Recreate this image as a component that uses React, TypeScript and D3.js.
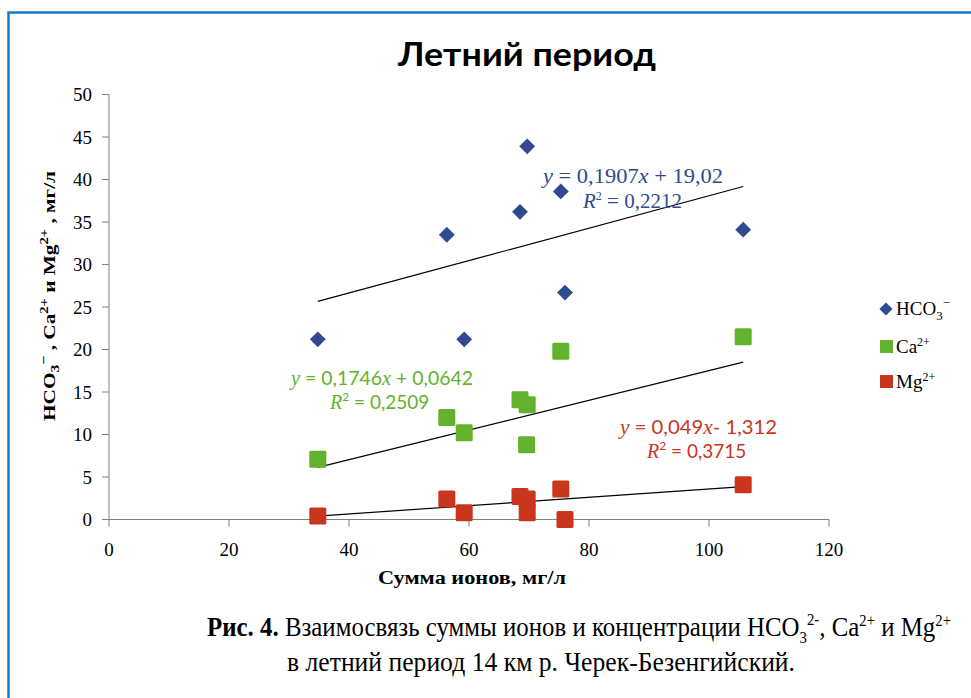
import React from "react";
import * as d3 from "d3";

const sumIonsX = [34.8, 56.3, 59.2, 68.5, 69.7, 75.3, 76.0, 105.7];
const hco3Values = [21.2, 33.5, 21.2, 36.2, 43.9, 38.6, 26.7, 34.1];

const caX = [34.8, 56.3, 59.2, 68.5, 69.7, 69.6, 75.3, 105.7];
const caValues = [7.1, 12.0, 10.2, 14.1, 13.5, 8.8, 19.8, 21.5];

const mgX = [34.8, 56.3, 59.2, 68.5, 69.7, 69.7, 75.3, 76.0, 105.7];
const mgValues = [0.4, 2.4, 0.8, 2.7, 2.4, 0.8, 3.6, 0.0, 4.1];

const xTicks = [0, 20, 40, 60, 80, 100, 120];
const yTicks = [0, 5, 10, 15, 20, 25, 30, 35, 40, 45, 50];

// trend coefficients [slope, intercept] as printed
const hco3Trend = [0.1907, 19.02];
const caTrend = [0.1746, 0.0642];
const mgTrend = [0.049, -1.312];

const BLUE = "#2f4a8f";
const GREEN = "#62b22d";
const RED = "#c8361d";
const SERIF = "'Liberation Serif', 'Times New Roman', serif";
const SANS = "Lato, 'Open Sans', sans-serif";

export default function App() {
  const x = d3.scaleLinear().domain([0, 120]).range([109, 829]);
  const y = d3.scaleLinear().domain([0, 50]).range([519.5, 94.5]);

  const trendPath = (xs: number[], coef: number[]) => {
    const x0 = d3.min(xs) as number;
    const x1 = d3.max(xs) as number;
    const line = d3
      .line<number>()
      .x((d) => x(d))
      .y((d) => y(coef[0] * d + coef[1]));
    return line([x0, x1]) || "";
  };

  const diamond = d3.symbol().type(d3.symbolDiamond2).size(160)() || "";

  const sq = 17;

  return (
    <div style={{ position: "fixed", left: 0, top: 0 }}>
      <svg width={971} height={698} style={{ display: "block", background: "#fff" }}>
        {/* frame */}
        <path d="M8.5,698 L8.5,12.5 L971,12.5" fill="none" stroke="#1a7cc1" strokeWidth={2.5} />

        {/* title */}
        <text x={527} y={66} textAnchor="middle" fontFamily={SANS} fontWeight="bold" fontSize={33} textLength={258} lengthAdjust="spacingAndGlyphs" fill="#000">
          Летний период
        </text>

        {/* y axis */}
        <line x1={x(0)} x2={x(0)} y1={y(50)} y2={y(0)} stroke="#7f7f7f" strokeWidth={1} />
        {yTicks.map((t) => (
          <g key={"yt" + t}>
            <line x1={x(0) - 7} x2={x(0)} y1={y(t)} y2={y(t)} stroke="#7f7f7f" />
            <text x={x(0) - 17} y={y(t) + 6.5} textAnchor="end" fontFamily={SERIF} fontSize={19} fill="#000">
              {t}
            </text>
          </g>
        ))}
        {/* x axis */}
        <line x1={x(0) - 7} x2={x(120)} y1={y(0)} y2={y(0)} stroke="#7f7f7f" strokeWidth={1} />
        {xTicks.map((t) => (
          <g key={"xt" + t}>
            <line x1={x(t)} x2={x(t)} y1={y(0)} y2={y(0) + 7} stroke="#7f7f7f" />
            <text x={x(t)} y={y(0) + 36} textAnchor="middle" fontFamily={SERIF} fontSize={19} fill="#000">
              {t}
            </text>
          </g>
        ))}

        {/* axis titles */}
        <text x={378} y={584} fontFamily={SERIF} fontWeight="bold" fontSize={18} textLength={188} lengthAdjust="spacingAndGlyphs" fill="#000">
          Сумма ионов, мг/л
        </text>
        <text transform="translate(55,296) rotate(-90)" textAnchor="middle" fontFamily={SERIF} fontWeight="bold" fontSize={17.5} textLength={250} lengthAdjust="spacingAndGlyphs" fill="#000">
          HCO
          <tspan fontSize={13} dy={4}>3</tspan>
          <tspan fontSize={13} dy={-11}>−</tspan>
          <tspan dy={7}> , Ca</tspan>
          <tspan fontSize={12} dy={-7}>2+</tspan>
          <tspan dy={7}> и Mg</tspan>
          <tspan fontSize={12} dy={-7}>2+</tspan>
          <tspan dy={7}> , мг/л</tspan>
        </text>

        {/* trend lines */}
        <path d={trendPath(sumIonsX, hco3Trend)} stroke="#000" strokeWidth={1.2} fill="none" />
        <path d={trendPath(caX, caTrend)} stroke="#000" strokeWidth={1.2} fill="none" />
        <path d={trendPath(mgX, mgTrend)} stroke="#000" strokeWidth={1.2} fill="none" />

        {/* points */}
        {sumIonsX.map((v, i) => (
          <path key={"h" + i} d={diamond} transform={`translate(${x(v)},${y(hco3Values[i])})`} fill={BLUE} />
        ))}
        {caX.map((v, i) => (
          <rect key={"c" + i} x={x(v) - sq / 2} y={y(caValues[i]) - sq / 2} width={sq} height={sq} rx={1.5} fill={GREEN} />
        ))}
        {mgX.map((v, i) => (
          <rect key={"m" + i} x={x(v) - sq / 2} y={y(mgValues[i]) - sq / 2} width={sq} height={sq} rx={1.5} fill={RED} />
        ))}

        {/* trend equations */}
        <text x={543} y={183} fontFamily={SERIF} fontSize={21} fill={BLUE} textLength={180} lengthAdjust="spacingAndGlyphs">
          <tspan fontStyle="italic">y</tspan> = 0,1907<tspan fontStyle="italic">x</tspan> + 19,02
        </text>
        <text x={583} y={208} fontFamily={SERIF} fontSize={21} fill={BLUE}>
          <tspan fontStyle="italic">R</tspan>
          <tspan fontSize={12} dy={-8}>2</tspan>
          <tspan dy={8}> = 0,2212</tspan>
        </text>

        <text x={291} y={385} fontFamily={SANS} fontSize={19} fill={GREEN} textLength={182} lengthAdjust="spacingAndGlyphs">
          <tspan fontStyle="italic" fontFamily={SERIF} fontSize={20}>y</tspan> = 0,1746<tspan fontStyle="italic" fontFamily={SERIF} fontSize={20}>x</tspan> + 0,0642
        </text>
        <text x={330} y={409} fontFamily={SANS} fontSize={19} fill={GREEN}>
          <tspan fontStyle="italic" fontFamily={SERIF} fontSize={20}>R</tspan>
          <tspan fontSize={12} dy={-8}>2</tspan>
          <tspan dy={8}> = 0,2509</tspan>
        </text>

        <text x={620} y={434} fontFamily={SANS} fontSize={19} fill={RED} textLength={157} lengthAdjust="spacingAndGlyphs">
          <tspan fontStyle="italic" fontFamily={SERIF} fontSize={20}>y</tspan> = 0,049<tspan fontStyle="italic" fontFamily={SERIF} fontSize={20}>x</tspan>- 1,312
        </text>
        <text x={647} y={458} fontFamily={SANS} fontSize={19} fill={RED}>
          <tspan fontStyle="italic" fontFamily={SERIF} fontSize={20}>R</tspan>
          <tspan fontSize={12} dy={-8}>2</tspan>
          <tspan dy={8}> = 0,3715</tspan>
        </text>

        {/* legend */}
        <path d={d3.symbol().type(d3.symbolDiamond2).size(110)() || ""} transform="translate(886,309)" fill={BLUE} />
        <text x={896} y={315} fontFamily={SERIF} fontSize={19} fill="#000">
          HCO<tspan fontSize={13} dy={5}>3</tspan>
          <tspan fontSize={13} dy={-13}>−</tspan>
        </text>
        <rect x={880} y={340} width={13} height={13} fill={GREEN} />
        <text x={896} y={353} fontFamily={SERIF} fontSize={19} fill="#000">
          Ca<tspan fontSize={12} dy={-7}>2+</tspan>
        </text>
        <rect x={880} y={375} width={13} height={13} fill={RED} />
        <text x={896} y={388} fontFamily={SERIF} fontSize={19} fill="#000">
          Mg<tspan fontSize={12} dy={-7}>2+</tspan>
        </text>

        {/* caption */}
        <text x={207} y={636} fontFamily={SERIF} fontSize={27} fill="#000" textLength={744} lengthAdjust="spacingAndGlyphs">
          <tspan fontWeight="bold">Рис. 4.</tspan> Взаимосвязь суммы ионов и концентрации HCO
          <tspan fontSize={16} dy={7}>3</tspan>
          <tspan fontSize={16} dy={-18}>2-</tspan>
          <tspan dy={11}>, Ca</tspan>
          <tspan fontSize={16} dy={-10}>2+</tspan>
          <tspan dy={10}> и Mg</tspan>
          <tspan fontSize={16} dy={-10}>2+</tspan>
        </text>
        <text x={287} y={671} fontFamily={SERIF} fontSize={27} fill="#000" textLength={508} lengthAdjust="spacingAndGlyphs">
          в летний период 14 км р. Черек-Безенгийский.
        </text>
      </svg>
    </div>
  );
}
